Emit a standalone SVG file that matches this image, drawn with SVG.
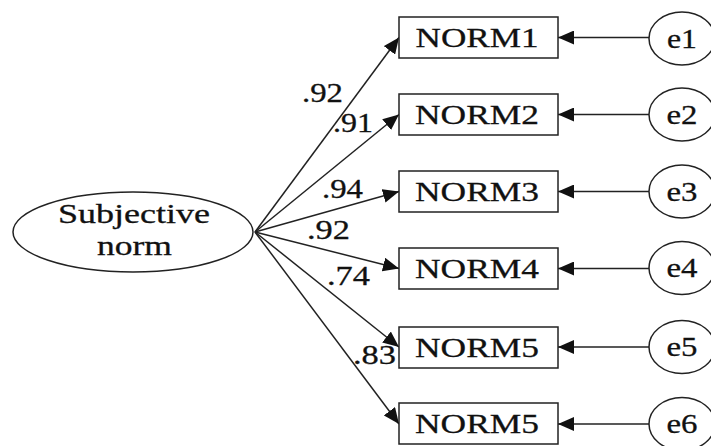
<svg xmlns="http://www.w3.org/2000/svg" width="711" height="446" viewBox="0 0 711 446">
  <style>
    .shape { fill: #fff; stroke: #222; stroke-width: 1.5; }
    .edge { stroke: #222; stroke-width: 1.5; fill: none; marker-end: url(#head); }
    text { font-family: "Liberation Serif", "Times New Roman", serif; font-size: 28px; fill: #111; stroke: #111; stroke-width: 0.3; text-anchor: middle; }
    .coef { text-anchor: start; }
  </style>
  <defs>
    <marker id="head" markerUnits="userSpaceOnUse" markerWidth="16" markerHeight="14" viewBox="0 0 16 14" refX="16" refY="7" orient="auto">
      <path d="M0,0 L16,7 L0,14 Z" fill="#111"/>
    </marker>
  </defs>

  <rect width="711" height="446" fill="#fff"/>

  <!-- connectors -->
  <g id="connectors">
    <line class="edge" x1="255" y1="232" x2="399" y2="37.5"/>
    <line class="edge" x1="255" y1="232" x2="399" y2="114.5"/>
    <line class="edge" x1="255" y1="232" x2="399" y2="191.5"/>
    <line class="edge" x1="255" y1="232" x2="399" y2="268.5"/>
    <line class="edge" x1="255" y1="232" x2="399" y2="347"/>
    <line class="edge" x1="255" y1="232" x2="399" y2="424"/>
    <line class="edge" x1="649" y1="37.5" x2="558" y2="37.5"/>
    <line class="edge" x1="649" y1="114.5" x2="558" y2="114.5"/>
    <line class="edge" x1="649" y1="191.5" x2="558" y2="191.5"/>
    <line class="edge" x1="649" y1="268.5" x2="558" y2="268.5"/>
    <line class="edge" x1="649" y1="347" x2="558" y2="347"/>
    <line class="edge" x1="649" y1="424" x2="558" y2="424"/>
  </g>

  <!-- loading coefficients -->
  <g id="coefficients">
    <text class="coef" x="302" y="102" textLength="41" lengthAdjust="spacingAndGlyphs">.92</text>
    <text class="coef" x="333" y="132" textLength="40" lengthAdjust="spacingAndGlyphs">.91</text>
    <text class="coef" x="322" y="198" textLength="41" lengthAdjust="spacingAndGlyphs">.94</text>
    <text class="coef" x="307" y="239" textLength="43" lengthAdjust="spacingAndGlyphs">.92</text>
    <text class="coef" x="327" y="285" textLength="43" lengthAdjust="spacingAndGlyphs">.74</text>
    <text class="coef" x="353" y="364" textLength="43" lengthAdjust="spacingAndGlyphs">.83</text>
  </g>

  <!-- latent factor -->
  <g id="subjective-norm">
    <ellipse class="shape" cx="133" cy="232" rx="120" ry="40"/>
    <text x="134" y="223" textLength="152" lengthAdjust="spacingAndGlyphs">Subjective</text>
    <text x="134.5" y="255" textLength="75" lengthAdjust="spacingAndGlyphs">norm</text>
  </g>

  <!-- observed indicators -->
  <g id="norm1">
    <rect class="shape" x="399" y="17" width="159" height="41"/>
    <text x="477" y="47" textLength="123" lengthAdjust="spacingAndGlyphs">NORM1</text>
  </g>
  <g id="norm2">
    <rect class="shape" x="399" y="94" width="159" height="41"/>
    <text x="477" y="123.5" textLength="124" lengthAdjust="spacingAndGlyphs">NORM2</text>
  </g>
  <g id="norm3">
    <rect class="shape" x="399" y="171" width="159" height="41"/>
    <text x="477" y="201" textLength="124" lengthAdjust="spacingAndGlyphs">NORM3</text>
  </g>
  <g id="norm4">
    <rect class="shape" x="399" y="248" width="159" height="41"/>
    <text x="477" y="278" textLength="124" lengthAdjust="spacingAndGlyphs">NORM4</text>
  </g>
  <g id="norm5">
    <rect class="shape" x="399" y="327" width="159" height="41"/>
    <text x="477" y="356.5" textLength="124" lengthAdjust="spacingAndGlyphs">NORM5</text>
  </g>
  <g id="norm6">
    <rect class="shape" x="399" y="403" width="159" height="41"/>
    <text x="477" y="433" textLength="124" lengthAdjust="spacingAndGlyphs">NORM5</text>
  </g>

  <!-- error terms -->
  <g id="e1">
    <ellipse class="shape" cx="682" cy="38.5" rx="33" ry="26.5"/>
    <text x="682" y="47.5" textLength="30" lengthAdjust="spacingAndGlyphs">e1</text>
  </g>
  <g id="e2">
    <ellipse class="shape" cx="682" cy="114.5" rx="33" ry="26.5"/>
    <text x="682" y="123.5" textLength="31" lengthAdjust="spacingAndGlyphs">e2</text>
  </g>
  <g id="e3">
    <ellipse class="shape" cx="682" cy="191.5" rx="33" ry="26.5"/>
    <text x="682" y="200.5" textLength="31" lengthAdjust="spacingAndGlyphs">e3</text>
  </g>
  <g id="e4">
    <ellipse class="shape" cx="682" cy="268" rx="33" ry="26.5"/>
    <text x="682" y="277" textLength="31" lengthAdjust="spacingAndGlyphs">e4</text>
  </g>
  <g id="e5">
    <ellipse class="shape" cx="682" cy="347" rx="33" ry="26.5"/>
    <text x="682" y="356" textLength="31" lengthAdjust="spacingAndGlyphs">e5</text>
  </g>
  <g id="e6">
    <ellipse class="shape" cx="682" cy="424" rx="33" ry="26.5"/>
    <text x="682" y="433" textLength="31" lengthAdjust="spacingAndGlyphs">e6</text>
  </g>
</svg>
